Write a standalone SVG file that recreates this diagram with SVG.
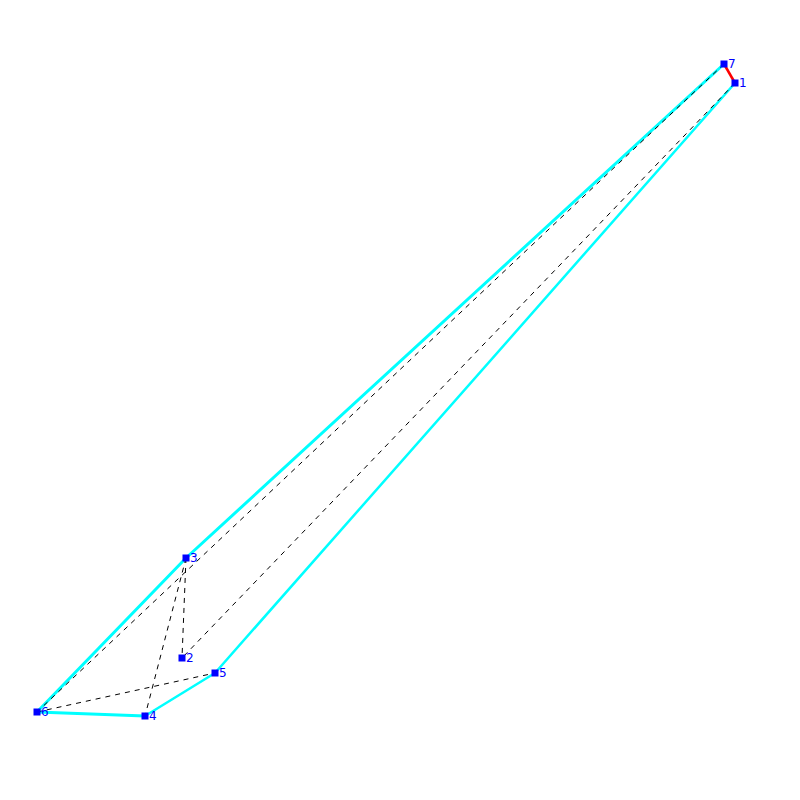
<svg xmlns="http://www.w3.org/2000/svg" width="800" height="800" viewBox="0 0 800 800">
<style>
.hull{stroke:#00ffff;stroke-width:3;fill:none;stroke-linecap:round}
.thin{stroke-width:2.5}
.red{stroke:#ff0000;stroke-width:2.5;fill:none}
.dash{stroke:#000;stroke-width:1;stroke-dasharray:5,5;fill:none}
.pt{fill:#0000ff}
.lbl{fill:#0000ff;font-family:"DejaVu Sans",sans-serif;font-size:12px}
</style>
<rect width="800" height="800" fill="#fff"/>
<g id="connectors">
<line class="hull" x1="724" y1="64" x2="186" y2="558"/>
<line class="hull" x1="186" y1="558" x2="37" y2="712"/>
<line class="hull" x1="37" y1="712" x2="145" y2="716"/>
<line class="hull thin" x1="145" y1="716" x2="215" y2="673"/>
<line class="hull thin" x1="215" y1="673" x2="735" y2="83"/>
<line class="red" x1="724" y1="64" x2="735" y2="83"/>
<line class="dash" x1="724" y1="64" x2="37" y2="712"/>
<line class="dash" x1="735" y1="83" x2="182" y2="658"/>
<line class="dash" x1="186" y1="558" x2="182" y2="658"/>
<line class="dash" x1="186" y1="558" x2="145" y2="716"/>
<line class="dash" x1="37" y1="712" x2="215" y2="673"/>
</g>
<g id="n7"><rect class="pt" x="720.5" y="60.5" width="7" height="7"/><text class="lbl" x="728" y="68">7</text></g>
<g id="n1"><rect class="pt" x="731.5" y="79.5" width="7" height="7"/><text class="lbl" x="739" y="87">1</text></g>
<g id="n3"><rect class="pt" x="182.5" y="554.5" width="7" height="7"/><text class="lbl" x="190" y="562">3</text></g>
<g id="n2"><rect class="pt" x="178.5" y="654.5" width="7" height="7"/><text class="lbl" x="186" y="662">2</text></g>
<g id="n5"><rect class="pt" x="211.5" y="669.5" width="7" height="7"/><text class="lbl" x="219" y="677">5</text></g>
<g id="n6"><rect class="pt" x="33.5" y="708.5" width="7" height="7"/><text class="lbl" x="41" y="716">6</text></g>
<g id="n4"><rect class="pt" x="141.5" y="712.5" width="7" height="7"/><text class="lbl" x="149" y="720">4</text></g>
</svg>
